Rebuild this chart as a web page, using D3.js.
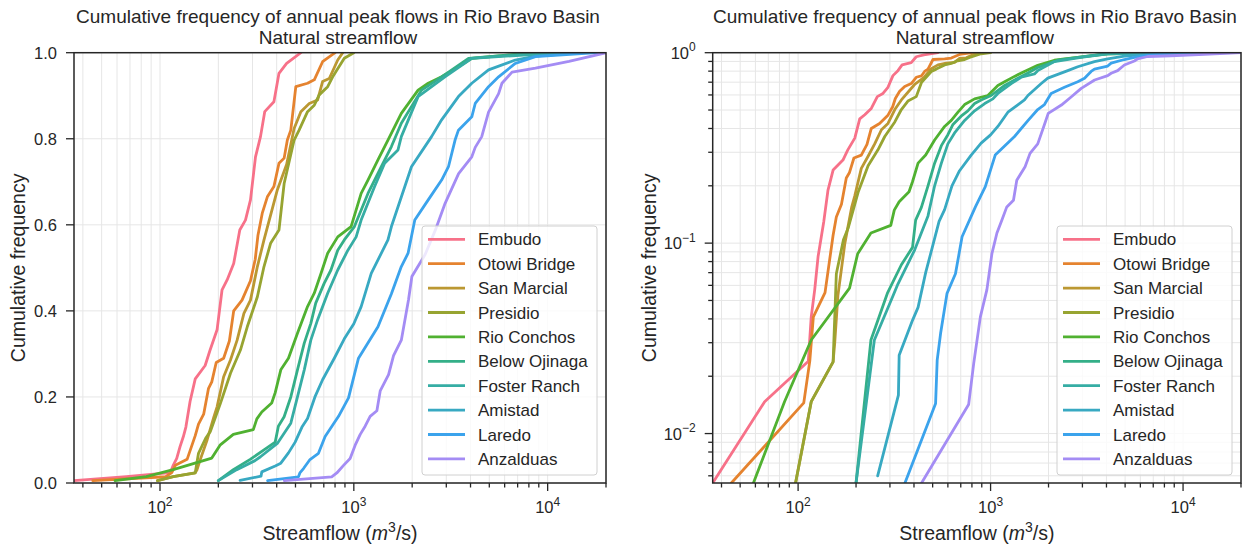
<!DOCTYPE html>
<meta charset="utf-8">
<style>
body { margin: 0; background: #fff; }
text { font-family: "Liberation Sans", Arial, sans-serif; fill: #262626; }
.grid line { stroke: #e6e6e6; stroke-width: 1; }
.frame { fill: none; stroke: #262626; stroke-width: 1.5; }
.tick line { stroke: #262626; stroke-width: 1.3; }
.series { fill: none; stroke-width: 2.8; stroke-linejoin: round; stroke-linecap: round; }
</style>
<svg width="1248" height="548"></svg>
<script src="https://cdn.jsdelivr.net/npm/d3@7"></script>
<script>

var stations = ["Embudo", "Otowi Bridge", "San Marcial", "Presidio", "Rio Conchos",
                "Below Ojinaga", "Foster Ranch", "Amistad", "Laredo", "Anzalduas"];
var colors = ["#f77189", "#e5832f", "#bb9832", "#97a431", "#50b131",
              "#34af88", "#36ada4", "#38a9c2", "#3ba3ec", "#a48cf4"];

// [streamflow m3/s, cumulative frequency]
var embudo = [[36,0.0055],[67,0.0147],[113,0.024],[117,0.041],[122,0.057],[127,0.085],[132,0.108],
  [136,0.13],[143,0.19],[152,0.242],[171,0.273],[181,0.308],[197,0.356],[209,0.449],[222,0.472],
  [240,0.51],[258,0.588],[276,0.611],[293,0.658],[311,0.758],[330,0.805],[347,0.863],[387,0.886],
  [411,0.952],[450,0.975],[533,1.0]];
var otowi = [[45,0.0055],[107,0.0145],[115,0.024],[120,0.041],[138,0.055],[152,0.11],[158,0.137],
  [168,0.16],[178,0.22],[185,0.235],[195,0.28],[213,0.29],[228,0.33],[240,0.4],[265,0.425],
  [293,0.47],[310,0.52],[320,0.575],[337,0.627],[358,0.665],[387,0.689],[411,0.743],[437,0.755],
  [454,0.797],[473,0.82],[502,0.921],[577,0.929],[625,0.937],[690,0.979],[800,1.0]];
var sanMarcial = [[97,0.0055],[117,0.0147],[152,0.0238],[155,0.03],[161,0.053],[175,0.10],
  [190,0.155],[197,0.177],[213,0.247],[231,0.286],[250,0.332],[271,0.394],[293,0.425],[318,0.503],
  [344,0.565],[403,0.681],[450,0.74],[492,0.824],[533,0.863],[589,0.882],[650,0.89],[690,0.933],
  [747,0.94],[826,0.983],[877,1.0]];
var presidio = [[97,0.0055],[117,0.0147],[152,0.0238],[158,0.069],[172,0.104],[182,0.12],
  [205,0.185],[231,0.255],[260,0.309],[282,0.363],[318,0.433],[344,0.503],[372,0.557],[411,0.588],
  [437,0.696],[492,0.797],[522,0.82],[577,0.863],[625,0.878],[663,0.902],[733,0.921],[778,0.944],
  [893,0.987],[1000,1.0]];
var rioConchos = [[58.6,0.0055],[85,0.0147],[117,0.031],[185,0.058],[204,0.088],[239,0.113],
  [303,0.124],[316,0.149],[335,0.165],[377,0.186],[393,0.21],[420,0.263],[460,0.29],[512,0.348],
  [577,0.41],[625,0.441],[677,0.487],[733,0.534],[826,0.572],[968,0.596],[1091,0.673],[1183,0.704],
  [1332,0.751],[1500,0.797],[1758,0.859],[2146,0.913],[2420,0.929],[2838,0.944],[3465,0.967],
  [4061,0.987],[5810,0.993],[8000,1.0]];
var belowOjinaga = [[200,0.0055],[239,0.031],[292,0.055],[344,0.077],[393,0.095],[408,0.132],
  [437,0.154],[473,0.2],[512,0.263],[555,0.325],[600,0.371],[636,0.418],[703,0.464],[762,0.495],
  [826,0.541],[893,0.565],[1007,0.596],[1183,0.673],[1386,0.735],[1563,0.782],[1758,0.836],
  [2235,0.913],[2838,0.944],[3906,0.987],[9000,1.0]];
var fosterRanch = [[200,0.0055],[249,0.031],[309,0.052],[330,0.061],[403,0.092],[473,0.139],
  [512,0.2],[555,0.263],[600,0.332],[650,0.379],[733,0.441],[826,0.495],[932,0.541],[1028,0.572],
  [1091,0.611],[1280,0.689],[1442,0.743],[1690,0.774],[1758,0.805],[2146,0.898],[2951,0.944],
  [4061,0.987],[12000,1.0]];
var amistad = [[259,0.006],[332,0.0159],[335,0.0258],[393,0.0393],[420,0.046],[460,0.07],
  [498,0.095],[540,0.13],[577,0.15],[630,0.2],[690,0.24],[793,0.29],[893,0.335],[1000,0.37],
  [1091,0.41],[1230,0.487],[1500,0.565],[1563,0.596],[1833,0.689],[1983,0.735],[2518,0.805],
  [2838,0.844],[3465,0.898],[4061,0.929],[4955,0.96],[6808,0.983],[8650,0.992],[15000,1.0]];
var laredo = [[359,0.0055],[518,0.0144],[528,0.0243],[550,0.0336],[594,0.0545],[657,0.069],
  [711,0.108],[834,0.155],[939,0.198],[1057,0.29],[1332,0.363],[1563,0.44],[1758,0.503],
  [1905,0.534],[2063,0.611],[2420,0.658],[2838,0.704],[3078,0.735],[3329,0.797],[3465,0.82],
  [4061,0.851],[4230,0.882],[4955,0.921],[5585,0.944],[6808,0.975],[8650,0.991],[18000,1.0]];
var anzalduas = [[438,0.0055],[769,0.0142],[817,0.0233],[885,0.041],[957,0.057],[1016,0.088],
  [1079,0.113],[1144,0.132],[1214,0.155],[1315,0.168],[1368,0.214],[1511,0.252],[1603,0.296],
  [1758,0.332],[1915,0.426],[1993,0.48],[2333,0.531],[2630,0.587],[2958,0.65],[3472,0.719],
  [4061,0.758],[4230,0.78],[4570,0.805],[4955,0.862],[5585,0.905],[5810,0.929],[6550,0.955],
  [8650,0.964],[12880,0.98],[20000,1.0]];

var series = [embudo, otowi, sanMarcial, presidio, rioConchos,
              belowOjinaga, fosterRanch, amistad, laredo, anzalduas];

var xDomain = [36, 20000];
var linTicks = [0, 0.2, 0.4, 0.6, 0.8, 1.0];

var svg = d3.select("svg");

function isDecade(d) { return Math.abs(Math.log10(d) - Math.round(Math.log10(d))) < 1e-9; }

function supLabel(sel, base, exp) {
  sel.append("tspan").text(base);
  sel.append("tspan").attr("dy", -7.5).attr("font-size", "12px").text(exp);
}

function drawPanel(left, right, isLog, id) {
  var top = 52.7, bottom = 483;
  var x = d3.scaleLog().domain(xDomain).range([left, right]);
  var y = isLog ? d3.scaleLog().domain([0.0055, 1]).range([bottom, top])
                : d3.scaleLinear().domain([0, 1]).range([bottom, top]);

  var g = svg.append("g");
  var xt = x.ticks();
  var xMajor = xt.filter(isDecade);
  var yt = isLog ? y.ticks() : linTicks;
  var yMajor = isLog ? yt.filter(isDecade) : linTicks;

  // grid
  var grid = g.append("g").attr("class", "grid");
  grid.selectAll(".vx").data(xt).enter().append("line")
    .attr("x1", function(d) { return x(d); }).attr("x2", function(d) { return x(d); })
    .attr("y1", top).attr("y2", bottom);
  grid.selectAll(".hy").data(yt).enter().append("line")
    .attr("y1", function(d) { return y(d); }).attr("y2", function(d) { return y(d); })
    .attr("x1", left).attr("x2", right);

  // series
  svg.append("clipPath").attr("id", id).append("rect")
    .attr("x", left).attr("y", top).attr("width", right - left).attr("height", bottom - top);
  var line = d3.line().x(function(d) { return x(d[0]); }).y(function(d) { return y(d[1]); });
  g.append("g").attr("clip-path", "url(#" + id + ")")
    .selectAll("path").data(series).enter().append("path")
    .attr("class", "series")
    .attr("stroke", function(d, i) { return colors[i]; })
    .attr("d", line);

  // frame
  g.append("rect").attr("class", "frame")
    .attr("x", left).attr("y", top).attr("width", right - left).attr("height", bottom - top);

  // x ticks
  var tk = g.append("g").attr("class", "tick");
  tk.selectAll(".xt").data(xt).enter().append("line")
    .attr("x1", function(d) { return x(d); }).attr("x2", function(d) { return x(d); })
    .attr("y1", bottom).attr("y2", function(d) { return bottom + (isDecade(d) ? 8 : 4.5); });
  xMajor.forEach(function(d) {
    var t = g.append("text").attr("x", x(d)).attr("y", bottom + 30)
      .attr("text-anchor", "middle").attr("font-size", "16.5px");
    supLabel(t, "10", String(Math.round(Math.log10(d))));
  });

  // y ticks
  tk.selectAll(".yt").data(yt).enter().append("line")
    .attr("y1", function(d) { return y(d); }).attr("y2", function(d) { return y(d); })
    .attr("x1", left).attr("x2", function(d) { return left - (yMajor.indexOf(d) >= 0 ? 8 : 4.5); });
  yMajor.forEach(function(d) {
    var t = g.append("text").attr("x", left - 17).attr("y", y(d) + 6)
      .attr("text-anchor", "end").attr("font-size", "16.5px");
    if (isLog) {
      var e = Math.round(Math.log10(d));
      supLabel(t, "10", e < 0 ? "\u2212" + (-e) : String(e));
    } else {
      t.text(d3.format(".1f")(d));
    }
  });

  // titles
  var cx = (left + right) / 2;
  g.append("text").attr("x", cx - 2).attr("y", 23).attr("text-anchor", "middle").attr("font-size", "19px")
    .text("Cumulative frequency of annual peak flows in Rio Bravo Basin");
  g.append("text").attr("x", cx - 2).attr("y", 44).attr("text-anchor", "middle").attr("font-size", "19px")
    .text("Natural streamflow");

  // axis labels
  var xl = g.append("text").attr("x", cx).attr("y", 540).attr("text-anchor", "middle").attr("font-size", "19.5px");
  xl.append("tspan").text("Streamflow (");
  xl.append("tspan").attr("font-style", "italic").text("m");
  xl.append("tspan").attr("dy", -8).attr("font-size", "14px").text("3");
  xl.append("tspan").attr("dy", 8).text("/s)");
  g.append("text").attr("transform", "translate(" + (left - (isLog ? 57 : 49)) + "," + ((top + bottom) / 2) + ") rotate(-90)")
    .attr("text-anchor", "middle").attr("font-size", "19.5px")
    .text("Cumulative frequency");

  // legend
  var lx = right - 184, ly = 226;
  var lg = g.append("g");
  lg.append("rect").attr("x", lx).attr("y", ly).attr("width", 175).attr("height", 249)
    .attr("rx", 3).attr("fill", "#fff").attr("fill-opacity", 0.8)
    .attr("stroke", "#d0d0d0").attr("stroke-width", 1);
  var items = lg.selectAll(".item").data(stations).enter().append("g")
    .attr("transform", function(d, i) { return "translate(" + lx + "," + (ly + 13.3 + i * 24.4) + ")"; });
  items.append("line").attr("x1", 6).attr("x2", 43).attr("y1", 0).attr("y2", 0)
    .attr("stroke", function(d, i) { return colors[i]; }).attr("stroke-width", 2.8);
  items.append("text").attr("x", 56).attr("y", 6).attr("font-size", "17px")
    .text(function(d) { return d; });
}

drawPanel(74, 606, false, "clipL");
drawPanel(712.7, 1241, true, "clipR");

</script>
